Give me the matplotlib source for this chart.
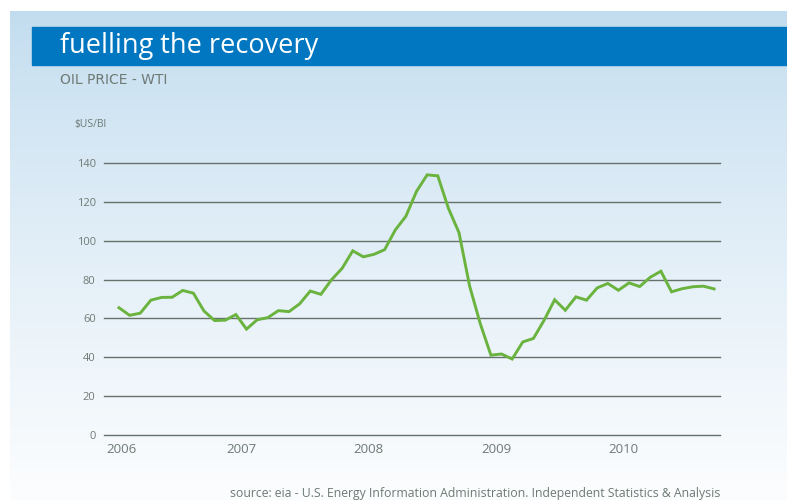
import numpy as np
import matplotlib
matplotlib.use("Agg")
import matplotlib.pyplot as plt
from matplotlib.patches import Rectangle

plt.rcParams['font.family'] = ['Open Sans', 'DejaVu Sans']

# WTI monthly average, Jan 2006 - Sep 2010 ($US/bbl)
wti_2006 = [65.5, 61.6, 62.7, 69.4, 70.8, 70.9, 74.4, 73.0, 63.8, 58.9, 59.1, 62.0]
wti_2007 = [54.5, 59.3, 60.4, 64.0, 63.5, 67.5, 74.1, 72.4, 79.9, 85.8, 94.8, 91.7]
wti_2008 = [93.0, 95.4, 105.5, 112.6, 125.4, 133.9, 133.4, 116.7, 104.1, 76.6, 57.3, 41.1]
wti_2009 = [41.7, 39.1, 47.9, 49.7, 59.0, 69.6, 64.2, 71.1, 69.4, 75.7, 78.0, 74.5]
wti_2010 = [78.3, 76.4, 81.2, 84.3, 73.7, 75.3, 76.3, 76.6, 75.2]

years = ['2006', '2007', '2008', '2009', '2010']
y_ticks = [0, 20, 40, 60, 80, 100, 120, 140]

prices = np.array(wti_2006 + wti_2007 + wti_2008 + wti_2009 + wti_2010)
months = np.arange(len(prices))

GREY = '#6e7a74'
W, H = 787, 500
fig = plt.figure(figsize=(W / 100, H / 100), dpi=100)

# background panel: pale blue fading to white
bg = fig.add_axes([0, 0, 1, 1])
bg.set_xlim(0, W)
bg.set_ylim(H, 0)
bg.axis('off')
grad = np.linspace(0, 1, 256)[:, None]
top = np.array([0.757, 0.863, 0.937])
bottom = np.array([0.988, 0.992, 0.996])
img = top + (bottom - top) * grad[..., None] ** 0.8
bg.imshow(img, extent=[10, W, H, 11], aspect='auto', zorder=0)
bg.add_patch(Rectangle((32, 27), W - 32, 38, color='#0077c0', zorder=1))
bg.text(60, 46.5, 'fuelling the recovery', color='white', fontsize=19.5,
        va='center', ha='left', zorder=2)
bg.text(60, 80.5, 'OIL PRICE - WTI', color=GREY, fontsize=10,
        family='DejaVu Sans', va='center', ha='left')
bg.text(74, 124, '$US/Bl', color=GREY, fontsize=7.5,
        va='center', ha='left')
bg.text(720, 494, 'source: eia - U.S. Energy Information Administration. '
        'Independent Statistics & Analysis', color=GREY, fontsize=8.8,
        va='center', ha='right')

ax = fig.add_axes([104 / W, 1 - 435 / H, (720 - 104) / W, (435 - 163) / H])
ax.patch.set_alpha(0)
for s in ax.spines.values():
    s.set_visible(False)

ax.plot(months, prices, color='#6ab33e', lw=2.1, solid_joinstyle='miter',
        clip_on=False, zorder=3)

ax.set_xlim(-1.41, 56.56)
ax.set_ylim(0, 140)
ax.set_yticks(y_ticks)
ax.yaxis.grid(True, color='#66716c', lw=1.0)
for gl in ax.get_ygridlines():
    gl.set_clip_on(False)
ax.set_axisbelow(True)
ax.tick_params(axis='y', length=0, pad=6, labelsize=8, labelcolor=GREY)

year_pos = [max(12 * i - 0.5, 0.2) for i in range(len(years))]
ax.set_xticks(year_pos)
ax.set_xticklabels(years)
ax.tick_params(axis='x', length=0, pad=6, labelsize=9.5, labelcolor=GREY)

fig.savefig('out.png', dpi=100)
